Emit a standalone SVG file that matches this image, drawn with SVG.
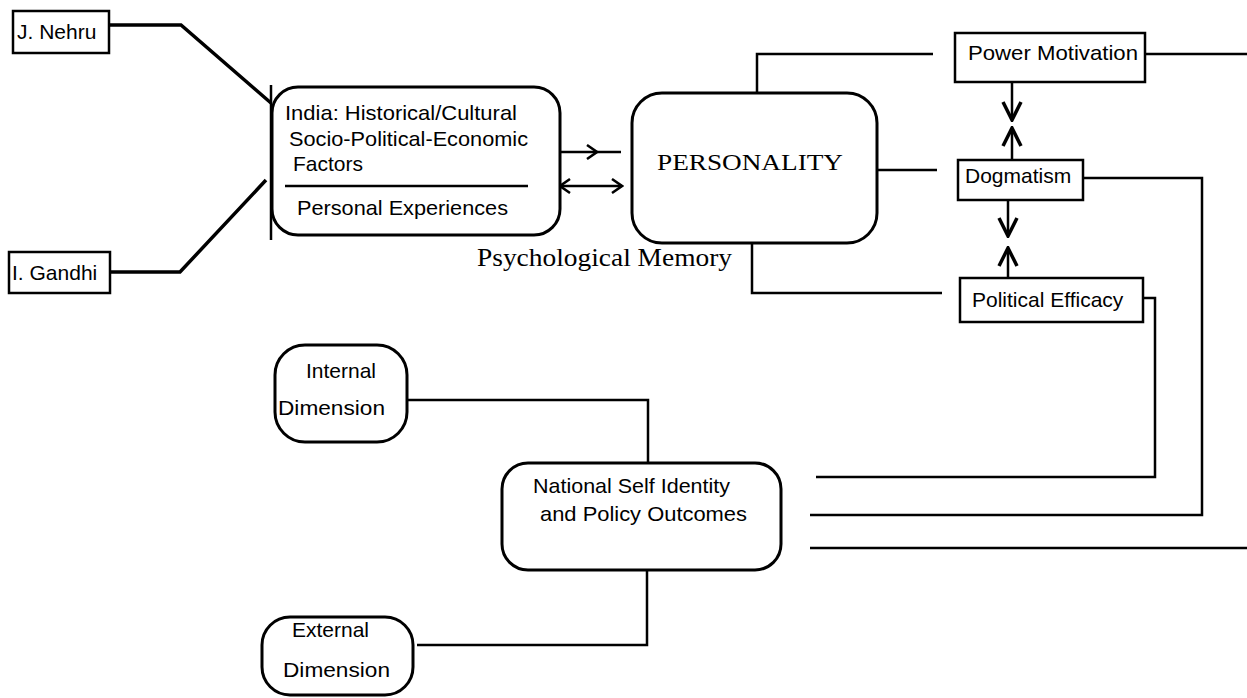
<svg xmlns="http://www.w3.org/2000/svg" width="1247" height="698" viewBox="0 0 1247 698">
<defs>
<style>
.box{fill:#fff;stroke:#000;stroke-width:3}
.sq{fill:#fff;stroke:#000;stroke-width:2.5}
.t{font-family:"Liberation Sans",Arial,sans-serif;font-size:21px;fill:#000}
.s{font-family:"Liberation Serif","Times New Roman",serif;fill:#000}
.c{fill:none;stroke:#000;stroke-width:2.5;stroke-linejoin:miter}
.th{stroke-width:3.5}
</style>
<marker id="ah" viewBox="0 0 22 22" refX="20" refY="11" markerWidth="22" markerHeight="22" markerUnits="userSpaceOnUse" orient="auto-start-reverse">
<path d="M2,2 L20,11 L2,20" fill="none" stroke="#000" stroke-width="3.5"/>
</marker>
<marker id="ahs" viewBox="0 0 16 16" refX="14" refY="8" markerWidth="16" markerHeight="16" markerUnits="userSpaceOnUse" orient="auto-start-reverse">
<path d="M4,1 L14,8 L4,15" fill="none" stroke="#000" stroke-width="2.5"/>
</marker>
</defs>
<rect width="1247" height="698" fill="#fff"/>

<g id="connectors">
<path class="c th" d="M109,25 L181,25 L271,103"/>
<path class="c th" d="M110,272 L180,272 L266,180"/>
<path class="c" stroke-width="3" d="M271,85 L271,240"/>
<path class="c" d="M560,152 L597,152 L621,152" marker-mid="url(#ahs)"/>
<path class="c" d="M560,186 L622,186" marker-start="url(#ahs)" marker-end="url(#ahs)"/>
<path class="c" d="M757,93 L757,54 L933,54"/>
<path class="c" d="M1145,54 L1247,54"/>
<path class="c" d="M877,170 L937,170"/>
<path class="c" d="M1083,178 L1202,178 L1202,515 L810,515"/>
<path class="c" d="M752,243 L752,293 L942,293"/>
<path class="c" d="M1012,82 L1012,120" marker-end="url(#ah)"/>
<path class="c" d="M1012,160 L1012,128" marker-end="url(#ah)"/>
<path class="c" d="M1008,200 L1008,236" marker-end="url(#ah)"/>
<path class="c" d="M1008,278 L1008,248" marker-end="url(#ah)"/>
<path class="c" d="M816,477 L1155,477 L1155,298 L1143,298"/>
<path class="c" d="M810,548 L1247,548"/>
<path class="c" d="M407,400 L648,400 L648,463"/>
<path class="c" d="M647,570 L647,645 L417,645"/>
</g>

<g id="nehru">
<rect class="sq" x="13" y="11" width="96" height="42"/>
<text class="t" x="17" y="39" font-size="22">J. Nehru</text>
</g>

<g id="gandhi">
<rect class="sq" x="9" y="252" width="101" height="41"/>
<text class="t" x="12" y="280" font-size="22">I. Gandhi</text>
</g>

<g id="india">
<rect class="box" x="272" y="87" width="288" height="148" rx="26"/>
<text class="t" x="285" y="120" textLength="232" lengthAdjust="spacingAndGlyphs">India: Historical/Cultural</text>
<text class="t" x="289" y="146" textLength="239" lengthAdjust="spacingAndGlyphs">Socio-Political-Economic</text>
<text class="t" x="293" y="171">Factors</text>
<line x1="285" y1="186" x2="528" y2="186" stroke="#000" stroke-width="2.5"/>
<text class="t" x="297" y="215" textLength="211" lengthAdjust="spacingAndGlyphs">Personal Experiences</text>
</g>

<g id="personality">
<rect class="box" x="632" y="93" width="245" height="150" rx="30"/>
<text class="s" x="657" y="170" font-size="24" textLength="186" lengthAdjust="spacingAndGlyphs">PERSONALITY</text>
</g>

<g id="memory-label">
<text class="s" x="477" y="266" font-size="25" textLength="255" lengthAdjust="spacingAndGlyphs">Psychological Memory</text>
</g>

<g id="power">
<rect class="sq" x="955" y="33" width="190" height="49"/>
<text class="t" x="968" y="60" textLength="170" lengthAdjust="spacingAndGlyphs">Power Motivation</text>
</g>

<g id="dogmatism">
<rect class="sq" x="958" y="160" width="125" height="40"/>
<text class="t" x="965" y="183">Dogmatism</text>
</g>

<g id="efficacy">
<rect class="sq" x="960" y="278" width="183" height="44"/>
<text class="t" x="972" y="307">Political Efficacy</text>
</g>

<g id="internal">
<rect class="box" x="275" y="345" width="132" height="97" rx="30"/>
<text class="t" x="341" y="378" text-anchor="middle">Internal</text>
<text class="t" x="278" y="415" textLength="107" lengthAdjust="spacingAndGlyphs">Dimension</text>
</g>

<g id="national">
<rect class="box" x="502" y="463" width="279" height="107" rx="26"/>
<text class="t" x="533" y="493" textLength="197" lengthAdjust="spacingAndGlyphs">National Self Identity</text>
<text class="t" x="540" y="521" textLength="207" lengthAdjust="spacingAndGlyphs">and Policy Outcomes</text>
</g>

<g id="external">
<rect class="box" x="262" y="617" width="151" height="78" rx="28"/>
<text class="t" x="292" y="637">External</text>
<text class="t" x="283" y="677" textLength="107" lengthAdjust="spacingAndGlyphs">Dimension</text>
</g>
</svg>
